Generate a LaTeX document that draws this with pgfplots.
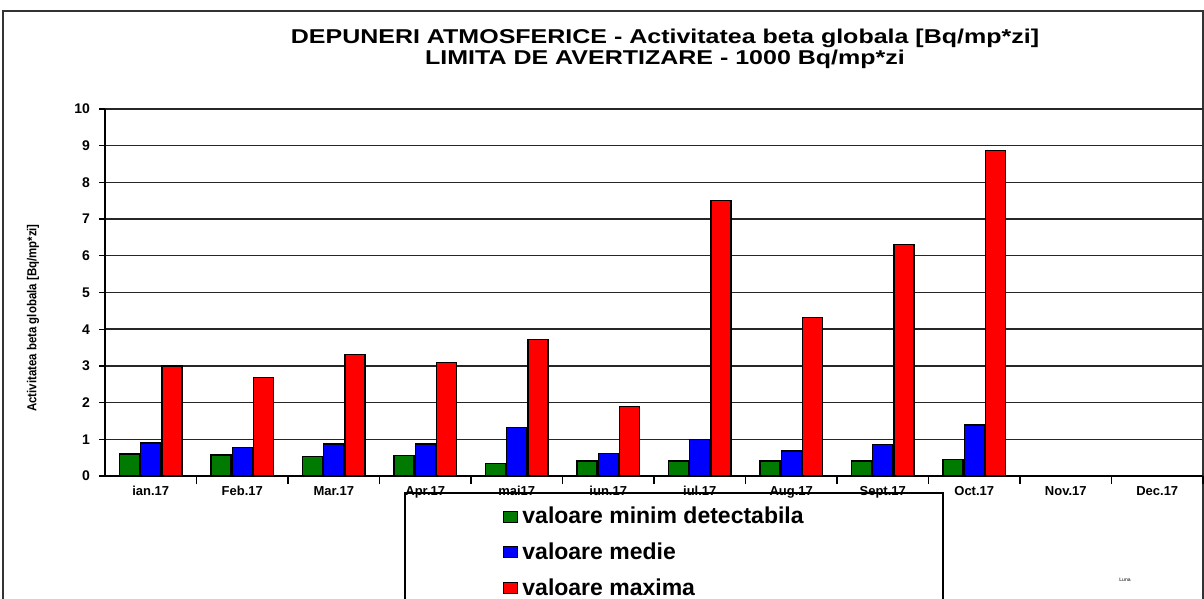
\documentclass[border=0pt]{standalone}
\usepackage{pgfplots}
\pgfplotsset{compat=1.18}
\usepackage{fontspec}
\setmainfont{Liberation Sans}
\definecolor{gmin}{HTML}{007A00}
\definecolor{bmed}{HTML}{0000FF}
\definecolor{rmax}{HTML}{FF0000}

\begin{document}
\begin{tikzpicture}
\useasboundingbox (-52.5pt,-61.5pt) rectangle (549.5pt,238pt);
% outer frame
\draw[black!80, line width=0.7pt] (-51pt,-70pt) -- (-51pt,232.5pt) -- (549pt,232.5pt) -- (549pt,-70pt);
\begin{axis}[
    at={(0pt,0pt)}, anchor=south west,
    scale only axis,
    width=549pt, height=183.5pt,
    ybar=0.6pt,
    bar width=10pt,
    xmin=-0.5, xmax=11.5,
    ymin=0, ymax=10,
    ytick={0,1,...,10},
    xtick={0,...,11},
    xticklabels={ian.17,Feb.17,Mar.17,Apr.17,mai17,iun.17,iul.17,Aug.17,Sept.17,Oct.17,Nov.17,Dec.17},
    minor xtick={0.5,1.5,...,11.5},
    major x tick style={draw=none},
    minor tick length=4pt,
    major tick length=3pt,
    tick align=outside,
    tick style={black, line width=0.6pt},
    axis x line*=bottom, axis y line*=left,
    axis line style={black, line width=0.8pt, -},
    ymajorgrids,
    grid style={black!85, line width=0.7pt},
    /pgf/number format/assume math mode=true,
    tick label style={font=\bfseries\fontsize{6.5}{7}\selectfont},
    yticklabel style={font=\bfseries\fontsize{7}{8}\selectfont, xshift=-1pt},
    xticklabel style={yshift=1.5pt},
    legend style={draw=none, fill=none, at={(0.3625,-0.073)}, anchor=north west,
        font=\bfseries\fontsize{11.5}{12}\selectfont, row sep=4pt, inner sep=0pt,
        nodes={inner xsep=2pt}},
    legend cell align=left,
    legend image code/.code={\draw[#1, draw=black, line width=0.5pt] (0pt,-2.6pt) rectangle (7pt,3pt);},
    every axis plot/.append style={draw=black, line width=0.6pt},
]
\addplot[fill=gmin] coordinates {(0,0.60) (1,0.57) (2,0.53) (3,0.55) (4,0.33) (5,0.41) (6,0.41) (7,0.41) (8,0.41) (9,0.44)};
\addplot[fill=bmed] coordinates {(0,0.90) (1,0.78) (2,0.87) (3,0.87) (4,1.32) (5,0.61) (6,0.99) (7,0.68) (8,0.85) (9,1.39)};
\addplot[fill=rmax] coordinates {(0,3.00) (1,2.68) (2,3.30) (3,3.10) (4,3.71) (5,1.90) (6,7.50) (7,4.31) (8,6.30) (9,8.86)};
\legend{valoare minim detectabila, valoare medie, valoare maxima}
\end{axis}
% legend frame
\draw[black, line width=0.8pt] (150pt,-70pt) -- (150pt,-8.5pt) -- (419pt,-8.5pt) -- (419pt,-70pt);
% titles
\node[font=\bfseries\fontsize{10}{8.8}\selectfont, align=center] at (280pt,213.5pt)
  {\scalebox{1.25}[1]{DEPUNERI ATMOSFERICE - Activitatea beta globala [Bq/mp*zi]}\\
   \scalebox{1.25}[1]{LIMITA DE AVERTIZARE - 1000 Bq/mp*zi}};
\node[rotate=90, font=\bfseries\fontsize{6.5}{7}\selectfont] at (-36pt,79pt)
  {\scalebox{0.88}[1]{Activitatea beta globala [Bq/mp*zi]}};
\node[font=\fontsize{2.5}{3}\selectfont] at (510pt,-52pt) {Luna};
\end{tikzpicture}
\end{document}
